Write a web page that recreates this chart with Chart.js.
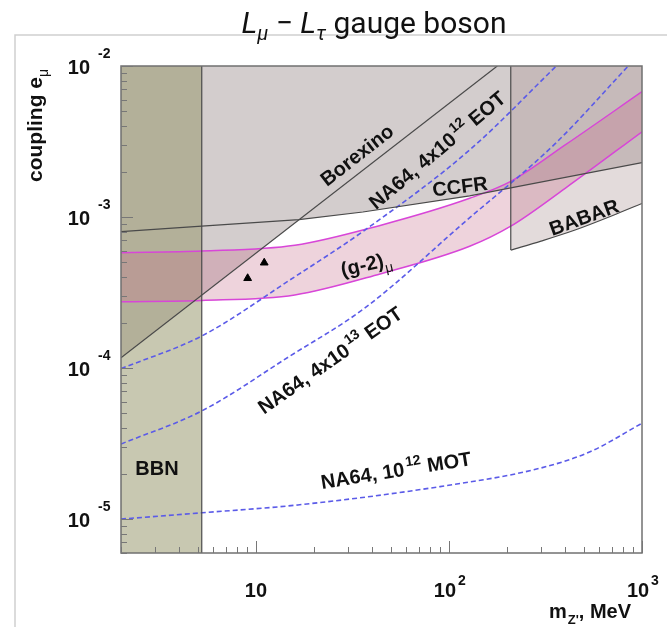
<!DOCTYPE html>
<html>
<head>
<meta charset="utf-8">
<script src="https://cdn.jsdelivr.net/npm/chart.js@4"></script>
<style>
  html, body { margin: 0; padding: 0; background: #fff; }
</style>
</head>
<body>
<canvas id="chart" width="667" height="627"></canvas>
<script>
// axis ranges (MeV, coupling)
const xMin = 2, xMax = 1000;
const yMin = 5.96e-6, yMax = 1e-2;

const bbnLimit = 5.24;

const ccfrMass     = [2, 5.24, 16.7, 35.8, 128, 209, 1000];
const ccfrCoupling = [8.0e-4, 8.7e-4, 9.6e-4, 1.08e-3, 1.38e-3, 1.56e-3, 2.29e-3];

const borexinoMass     = [2, 178];
const borexinoCoupling = [1.17e-4, 1e-2];

// lower edge of the union of CCFR and Borexino exclusions
const excludedMass     = [2, 16.7, 35.8, 128, 209, 1000];
const excludedCoupling = [1.17e-4, 9.6e-4, 1.08e-3, 1.38e-3, 1.56e-3, 2.29e-3];

const babarMass     = [209, 300, 450, 700, 1000];
const babarCoupling = [6.04e-4, 6.93e-4, 8.2e-4, 1.02e-3, 1.23e-3];

const gm2Mass  = [2, 5.24, 15.9, 44, 128, 209, 400, 1000];
const gm2Upper = [5.8e-4, 5.95e-4, 6.5e-4, 8.8e-4, 1.33e-3, 1.72e-3, 3.0e-3, 6.76e-3];
const gm2Lower = [2.75e-4, 2.8e-4, 3.05e-4, 4.2e-4, 6.4e-4, 8.7e-4, 1.55e-3, 3.67e-3];

const eot12Mass     = [2, 5.24, 15, 36.7, 128, 360];
const eot12Coupling = [9.9e-5, 1.63e-4, 3.83e-4, 8.2e-4, 2.78e-3, 1.0e-2];

const eot13Mass     = [2, 5.24, 15, 36.7, 121, 354, 849];
const eot13Coupling = [3.14e-5, 5.2e-5, 1.2e-4, 2.5e-4, 9.3e-4, 3.05e-3, 1.0e-2];

const motMass     = [2, 5.24, 16.5, 89.8, 296, 538, 1000];
const motCoupling = [1.0e-5, 1.1e-5, 1.24e-5, 1.64e-5, 2.17e-5, 2.79e-5, 4.31e-5];

const markerMass     = [9.06, 11.04];
const markerCoupling = [3.93e-4, 4.98e-4];

const xTickExp = [1, 2, 3];
const yTickExp = [-2, -3, -4, -5];

// text labels placed in data coordinates
const notes = [
  {m: 33.3, g: 2.58e-3, angle: -38, parts: [['Borexino']]},
  {m: 86.7, g: 2.78e-3, angle: -40, parts: [['NA64, 4x10'], ['12', 'sup'], [' EOT']]},
  {m: 114, g: 1.60e-3, angle: -7, parts: [['CCFR']]},
  {m: 500, g: 1.0e-3, angle: -20, parts: [['BABAR']]},
  {m: 37.2, g: 4.89e-4, angle: -13, parts: [['(g-2)'], ['μ', 'sub']]},
  {m: 24.2, g: 1.13e-4, angle: -35, parts: [['NA64, 4x10'], ['13', 'sup'], [' EOT']]},
  {m: 53.1, g: 2.11e-5, angle: -9, parts: [['NA64, 10'], ['12', 'sup'], [' MOT']]},
  {m: 3.07, g: 2.18e-5, angle: 0, parts: [['BBN']]}
];

function pts(xs, ys) {
  return xs.map((x, i) => ({x: x, y: ys[i]}));
}

const darkLine = '#4a4a4a';
const magenta = '#d846d8';
const dashBlue = '#5b5be8';
const boldFont = '"Liberation Sans", Arial, sans-serif';

function drawParts(ctx, parts, x, y, size, align) {
  const fonts = parts.map(p => {
    if (p[1] === 'sup') return {font: `bold ${Math.round(size * 0.68)}px ${boldFont}`, dy: -size * 0.45};
    if (p[1] === 'sub') return {font: `${Math.round(size * 0.68)}px ${boldFont}`, dy: size * 0.3};
    return {font: `bold ${size}px ${boldFont}`, dy: 0};
  });
  let total = 0;
  const widths = parts.map((p, i) => {
    ctx.font = fonts[i].font;
    const w = ctx.measureText(p[0]).width + (p[1] === 'sup' ? 2 : 0);
    total += w;
    return w;
  });
  let cx = align === 'center' ? x - total / 2 : (align === 'right' ? x - total : x);
  parts.forEach((p, i) => {
    ctx.font = fonts[i].font;
    ctx.textAlign = 'left';
    ctx.fillText(p[0], cx + (p[1] === 'sup' ? 2 : 0), y + fonts[i].dy);
    cx += widths[i];
  });
}

const decorations = {
  id: 'decorations',
  beforeDraw(chart) {
    const ctx = chart.ctx;
    ctx.save();
    ctx.strokeStyle = '#cfcfcf';
    ctx.lineWidth = 1.5;
    ctx.beginPath();
    ctx.moveTo(15, 627);
    ctx.lineTo(15, 35);
    ctx.lineTo(667, 35);
    ctx.stroke();

    // title
    const tf = '"Roboto", sans-serif';
    const pieces = [
      ['L', `italic 30px ${tf}`, 0],
      ['μ', `italic 20px ${tf}`, 7],
      [' \u2212 ', `30px ${tf}`, 0],
      ['L', `italic 30px ${tf}`, 0],
      ['τ', `italic 20px ${tf}`, 7],
      [' gauge boson', `30px ${tf}`, 0]
    ];
    let w = 0;
    pieces.forEach(p => { ctx.font = p[1]; w += ctx.measureText(p[0]).width; });
    let tx = 374 - w / 2;
    ctx.fillStyle = '#111';
    ctx.textBaseline = 'alphabetic';
    pieces.forEach(p => {
      ctx.font = p[1];
      ctx.fillText(p[0], tx, 33 + p[2]);
      tx += ctx.measureText(p[0]).width;
    });
    ctx.restore();
  },
  afterDraw(chart) {
    const {ctx, chartArea: a, scales: {x, y}} = chart;
    ctx.save();

    // frame
    ctx.strokeStyle = '#707070';
    ctx.lineWidth = 1.5;
    ctx.strokeRect(a.left, a.top, a.right - a.left, a.bottom - a.top);

    // ticks inside the frame
    ctx.lineWidth = 1;
    ctx.strokeStyle = '#777';
    ctx.beginPath();
    for (let d = -6; d <= -2; d++) {
      for (let k = 1; k <= 9; k++) {
        const v = k * Math.pow(10, d);
        if (v < yMin || v > yMax * 1.0001) continue;
        const py = Math.round(y.getPixelForValue(v)) + 0.5;
        ctx.moveTo(a.left, py);
        ctx.lineTo(a.left + (k === 1 ? 12 : 6), py);
      }
    }
    for (let d = 0; d <= 3; d++) {
      for (let k = 1; k <= 9; k++) {
        const v = k * Math.pow(10, d);
        if (v < xMin || v > xMax * 1.0001) continue;
        const px = Math.round(x.getPixelForValue(v)) + 0.5;
        ctx.moveTo(px, a.bottom);
        ctx.lineTo(px, a.bottom - (k === 1 ? 12 : 6));
      }
    }
    ctx.stroke();

    ctx.fillStyle = '#111';
    ctx.textBaseline = 'alphabetic';

    // y tick labels
    yTickExp.forEach(e => {
      const py = y.getPixelForValue(Math.pow(10, e));
      ctx.font = `bold 20px ${boldFont}`;
      ctx.textAlign = 'right';
      ctx.fillText('10', 90, py + 8);
      ctx.font = `bold 14px ${boldFont}`;
      ctx.textAlign = 'left';
      ctx.fillText(String(e), 98, py - 8);
    });

    // x tick labels
    xTickExp.forEach(e => {
      const px = x.getPixelForValue(Math.pow(10, e));
      ctx.font = `bold 20px ${boldFont}`;
      ctx.textAlign = 'center';
      if (e === 1) {
        ctx.fillText('10', px, 597);
      } else {
        ctx.fillText('10', px - 4, 597);
        ctx.font = `bold 14px ${boldFont}`;
        ctx.textAlign = 'left';
        ctx.fillText(String(e), px + 9, 585);
      }
    });

    // axis titles
    ctx.save();
    ctx.translate(42, 182);
    ctx.rotate(-Math.PI / 2);
    drawParts(ctx, [['coupling e'], ['μ', 'sub']], 0, 0, 21, 'left');
    ctx.restore();
    ctx.textAlign = 'left';
    ctx.font = `bold 20px ${boldFont}`;
    let xx = 549;
    ctx.fillText('m', xx, 618);
    xx += ctx.measureText('m').width + 1;
    ctx.font = `bold 13px ${boldFont}`;
    ctx.fillText("Z'", xx, 624);
    xx += ctx.measureText("Z'").width;
    ctx.font = `bold 20px ${boldFont}`;
    ctx.fillText(', MeV', xx, 618);

    // region and curve labels
    notes.forEach(n => {
      const px = x.getPixelForValue(n.m);
      const py = y.getPixelForValue(n.g);
      ctx.save();
      ctx.translate(px, py);
      ctx.rotate(n.angle * Math.PI / 180);
      drawParts(ctx, n.parts, 0, 7, 20, 'center');
      ctx.restore();
    });

    ctx.restore();
  }
};

const lineBase = {pointRadius: 0, borderWidth: 1.2, borderColor: darkLine, fill: false};
const dashed = {borderColor: dashBlue, borderWidth: 1.6, borderDash: [5, 3], pointRadius: 0,
  fill: false, cubicInterpolationMode: 'monotone'};

new Chart(document.getElementById('chart'), {
  type: 'line',
  data: {
    datasets: [
      {data: pts(markerMass, markerCoupling), showLine: false, pointStyle: 'triangle',
       pointRadius: 4.5, pointBackgroundColor: '#000', pointBorderColor: '#000', fill: false},
      Object.assign({data: pts(ccfrMass, ccfrCoupling)}, lineBase),
      Object.assign({data: pts(borexinoMass, borexinoCoupling)}, lineBase),
      Object.assign({data: [{x: bbnLimit, y: yMin}, {x: bbnLimit, y: yMax}]}, lineBase),
      Object.assign({data: [{x: babarMass[0], y: babarCoupling[0]}, {x: babarMass[0], y: yMax}]}, lineBase),
      Object.assign({data: pts(eot12Mass, eot12Coupling)}, dashed),
      Object.assign({data: pts(eot13Mass, eot13Coupling)}, dashed),
      Object.assign({data: pts(motMass, motCoupling)}, dashed),
      {data: pts(gm2Mass, gm2Upper), borderColor: magenta, borderWidth: 1.5, pointRadius: 0,
       fill: false, cubicInterpolationMode: 'monotone'},
      {data: pts(gm2Mass, gm2Lower), borderColor: magenta, borderWidth: 1.5, pointRadius: 0,
       fill: '-1', backgroundColor: 'rgba(200,110,140,0.3)', cubicInterpolationMode: 'monotone'},
      {data: [{x: xMin, y: yMin}, {x: bbnLimit, y: yMin}], borderColor: 'rgba(0,0,0,0)', pointRadius: 0,
       fill: 'end', backgroundColor: 'rgba(150,150,105,0.52)'},
      {data: pts(babarMass, babarCoupling), borderColor: darkLine, borderWidth: 1.2, pointRadius: 0,
       fill: 'end', backgroundColor: 'rgba(170,145,145,0.33)', cubicInterpolationMode: 'monotone'},
      {data: pts(excludedMass, excludedCoupling), borderColor: 'rgba(0,0,0,0)', pointRadius: 0,
       fill: 'end', backgroundColor: 'rgba(150,135,135,0.42)'}
    ]
  },
  options: {
    responsive: false,
    animation: false,
    events: [],
    layout: {padding: {left: 121, top: 66, right: 25, bottom: 74}},
    scales: {
      x: {type: 'logarithmic', min: xMin, max: xMax, display: false},
      y: {type: 'logarithmic', min: yMin, max: yMax, display: false}
    },
    plugins: {
      legend: {display: false},
      tooltip: {enabled: false},
      title: {display: false}
    }
  },
  plugins: [decorations]
});
</script>
</body>
</html>
